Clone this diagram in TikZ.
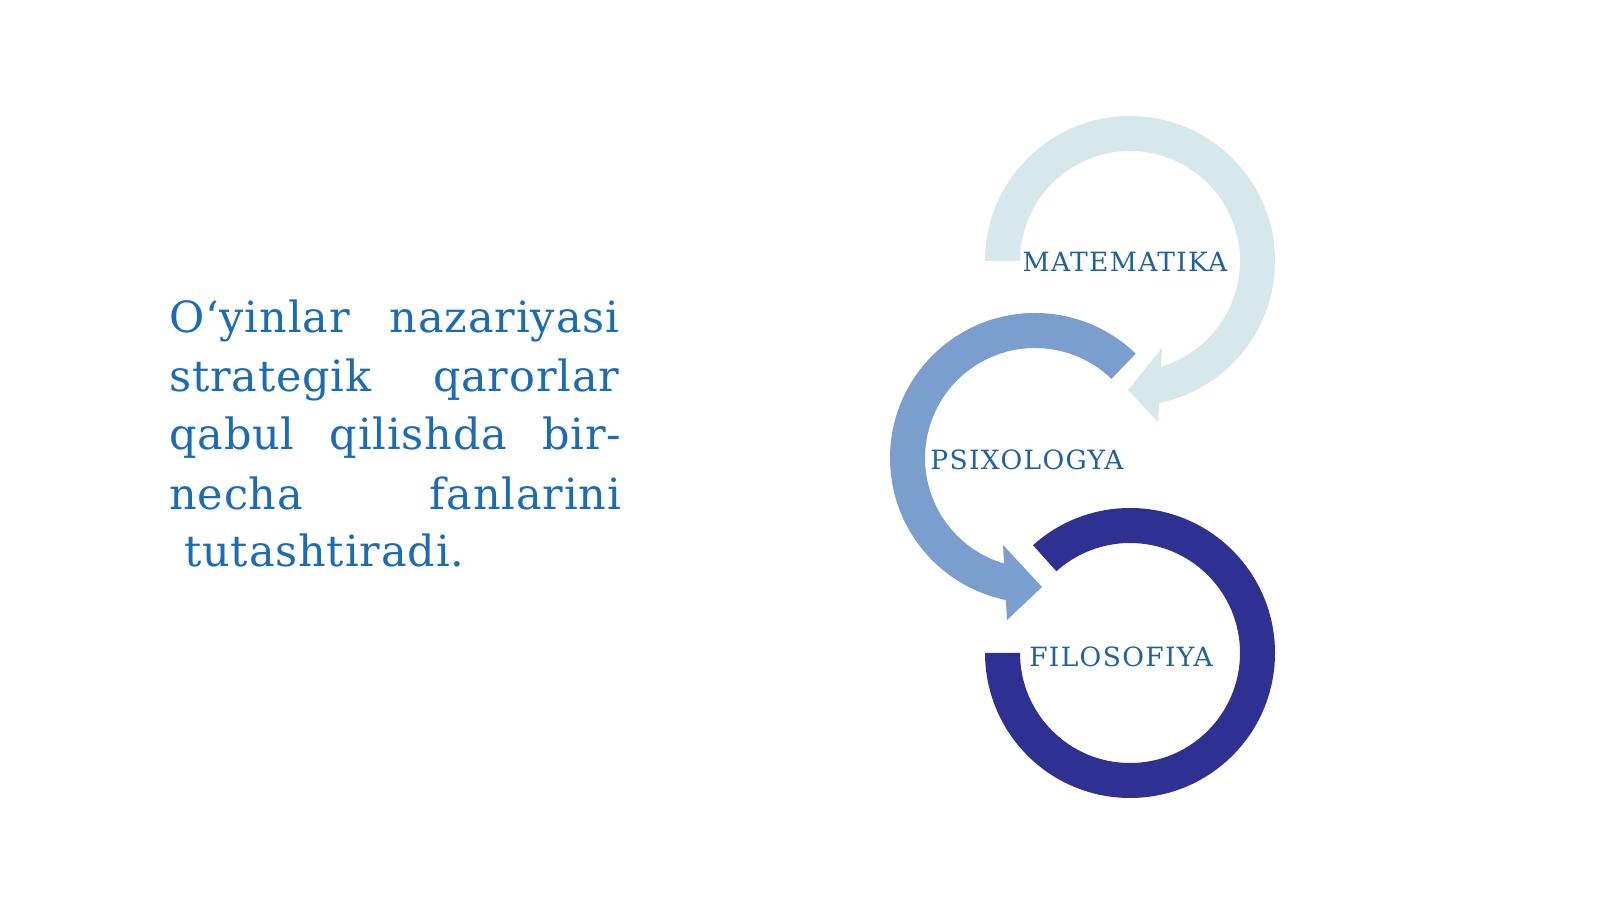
\documentclass[tikz,border=0pt]{standalone}
\usepackage{fontspec}
\setmainfont{DejaVu Serif}
\newfontfamily\labelfont[LetterSpace=5]{DejaVu Serif}
\newfontfamily\bodyfont[LetterSpace=2]{DejaVu Serif}
\definecolor{ringlight}{HTML}{D6E8EC}
\definecolor{ringmid}{HTML}{7A9FCE}
\definecolor{ringdark}{HTML}{2E3191}
\definecolor{labelblue}{HTML}{1E62A0}
\definecolor{textblue}{HTML}{1A6CB8}
\begin{document}
\begin{tikzpicture}[x=1pt,y=1pt,
  ringlabel/.style={font=\labelfont\fontsize{26.5}{30}\selectfont, text=labelblue, inner sep=0pt, anchor=base},
  bodyline/.style={font=\bodyfont\fontsize{43}{50}\selectfont, text=textblue, inner sep=0pt, anchor=base west}]
\useasboundingbox (0,0) rectangle (1600,899);
\fill[white] (0,0) rectangle (1600,899);
\coordinate (ctop) at (1130,638);
\coordinate (cmid) at (1035,441);
\coordinate (cbot) at (1130,246);
% top ring (light)
\begin{scope}[shift={(ctop)}]
\fill[ringlight] (180:145) arc[start angle=180, end angle=-78.4, radius=145]
  -- (28,-161) -- (-2,-129) -- (32,-87) -- (-73.7:110)
  arc[start angle=-73.7, end angle=180, radius=110] -- cycle;
\end{scope}
% middle ring
\begin{scope}[shift={(cmid)}]
\fill[ringmid] (46:145) arc[start angle=46, end angle=258.4, radius=145]
  -- (-28,-162) -- (7,-129) -- (-32,-87) -- (253.7:110)
  arc[start angle=253.7, end angle=46, radius=110] -- cycle;
\end{scope}
% bottom ring
\begin{scope}[shift={(cbot)}]
\fill[ringdark] (132:145) arc[start angle=132, end angle=-180, radius=145]
  -- (180:110) arc[start angle=180, end angle=492, radius=110] -- cycle;
\end{scope}
% labels
\node[ringlabel] (lmat) at (1125,627) {MATEMATIKA};
\node[ringlabel] (lpsi) at (1027,429) {PSIXOLOGYA};
\node[ringlabel] (lfil) at (1121,232) {FILOSOFIYA};
% body text
\node[bodyline] (t1) at (169,566) {\hbox to 450pt{O‘yinlar\hfill nazariyasi}};
\node[bodyline] (t2) at (169,507) {\hbox to 450pt{strategik\hfill qarorlar}};
\node[bodyline] (t3) at (169,449) {\hbox to 452pt{qabul\hfill qilishda\hfill bir-}};
\node[bodyline] (t4) at (169,389) {\hbox to 452pt{necha\hfill fanlarini}};
\node[bodyline] (t5) at (184,332) {tutashtiradi.};
\end{tikzpicture}
\end{document}
